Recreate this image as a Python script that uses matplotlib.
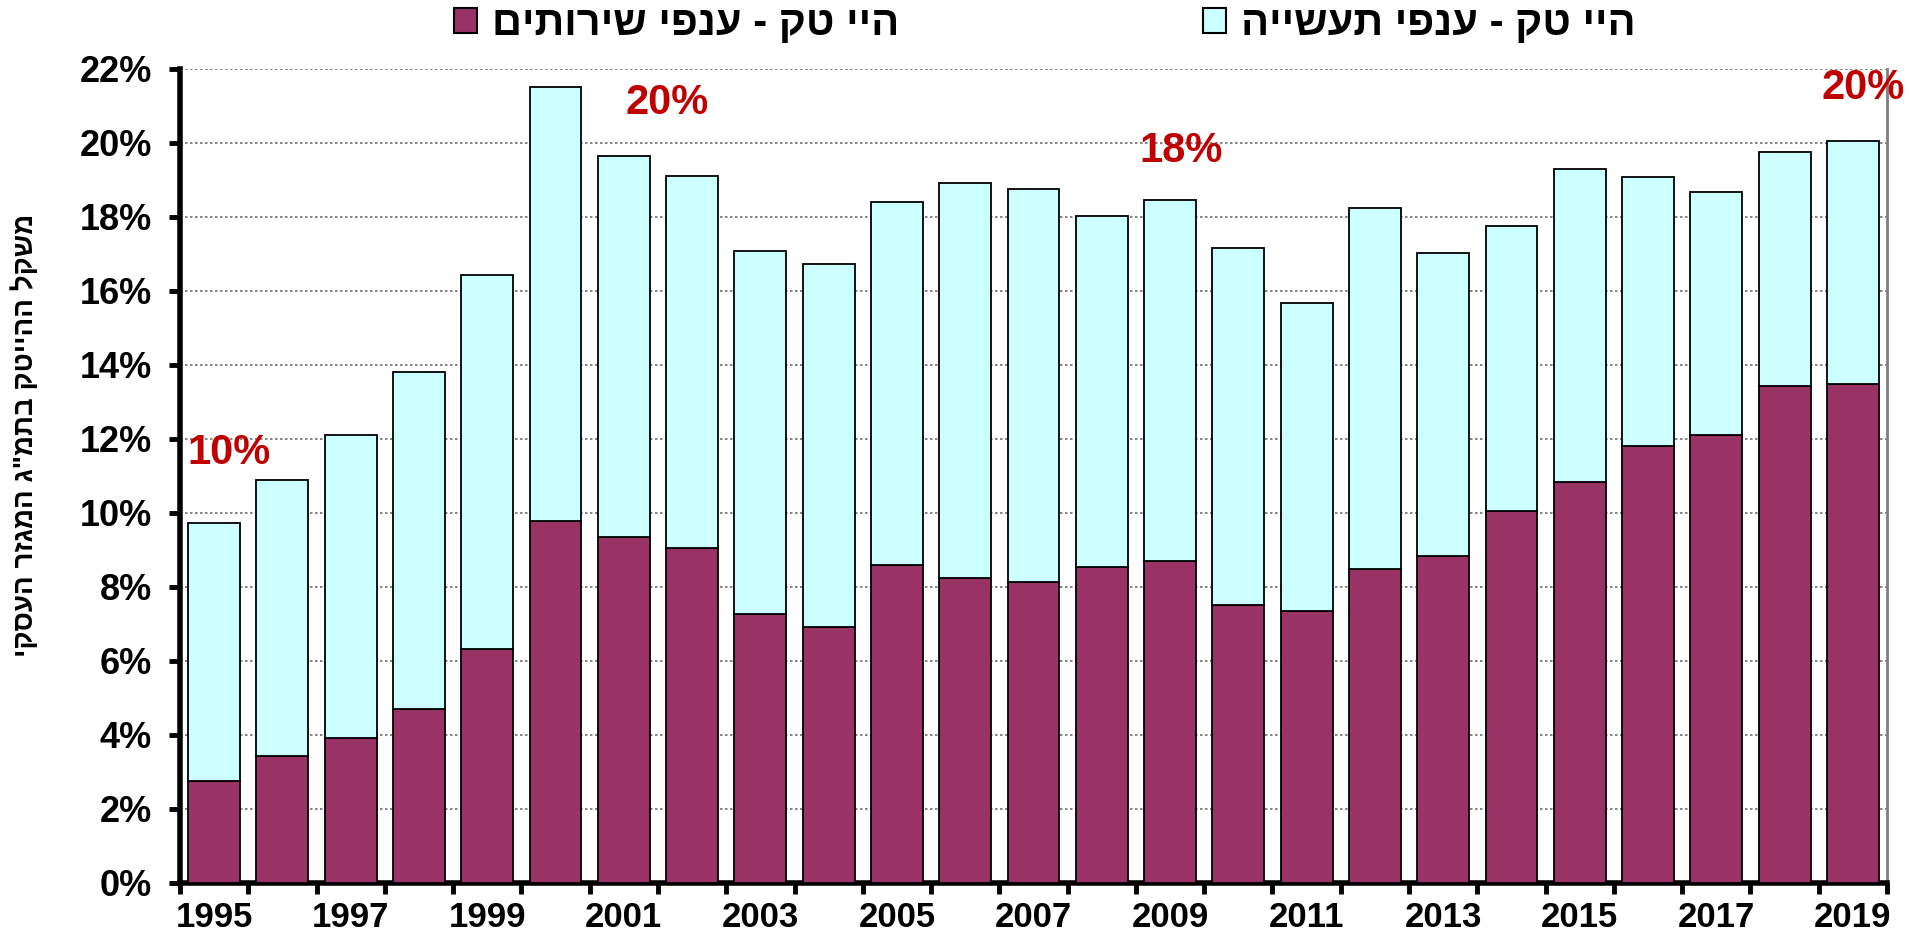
import matplotlib
matplotlib.use("Agg")
import matplotlib.pyplot as plt
from matplotlib.patches import Patch
import numpy as np

years = list(range(1995, 2020))
services = [2.77, 3.43, 3.92, 4.71, 6.32, 9.78, 9.35, 9.06, 7.28, 6.92,
            8.60, 8.23, 8.14, 8.53, 8.70, 7.51, 7.35, 8.50, 8.83, 10.05,
            10.84, 11.82, 12.12, 13.44, 13.50]
totals = [9.72, 10.90, 12.12, 13.80, 16.44, 21.51, 19.66, 19.10, 17.09, 16.73,
          18.41, 18.91, 18.77, 18.02, 18.45, 17.16, 15.68, 18.25, 17.03, 17.75,
          19.30, 19.07, 18.68, 19.76, 20.06]
industry = [t - s for t, s in zip(totals, services)]

label_services = "היי טק - ענפי שירותים"
label_industry = "היי טק - ענפי תעשייה"
y_title = 'משקל ההייטק בתמ"ג המגזר העסקי'

callout_texts = ["10%", "20%", "18%", "20%"]
callout_x = [0.22, 6.63, 14.16, 24.15]
callout_y = [11.62, 21.08, 19.78, 21.49]

HEB = ["Liberation Sans", "DejaVu Sans"]


def vis(s):
    # visual order for right-to-left text
    return s[::-1]


W, H = 1909, 934
fig = plt.figure(figsize=(W / 100, H / 100), dpi=100)
ax = fig.add_axes([180 / W, 1 - 883 / H, (1887 - 180) / W, (883 - 69) / H])

x = np.arange(len(years))
c_serv = "#993366"
c_ind = "#CCFFFF"
ax.bar(x, services, width=0.76, color=c_serv, edgecolor="black", linewidth=1.3, zorder=3)
ax.bar(x, industry, bottom=services, width=0.76, color=c_ind, edgecolor="black",
       linewidth=1.3, zorder=3)

ax.set_xlim(-0.5, len(years) - 0.5)
ax.set_ylim(0, 22)
ax.set_yticks(np.arange(0, 23, 2))
ax.set_yticklabels([f"{v}%" for v in range(0, 23, 2)])
ax.yaxis.grid(True, linestyle=(0, (1.5, 1.5)), color="#707070", linewidth=1.2, zorder=0)

# ticks between categories, labels every other year
ax.set_xticks(np.arange(-0.5, len(years), 1.0))
ax.set_xticklabels([])
ax.set_xticks(x[::2], minor=True)
ax.set_xticklabels([str(y) for y in years[::2]], minor=True)
ax.tick_params(axis="x", which="minor", length=0, pad=13)
ax.tick_params(axis="x", which="major", length=8, width=3.5, direction="out")
ax.tick_params(axis="y", length=8, width=3.5, direction="out", pad=12)

for lbl in ax.get_yticklabels():
    lbl.set_fontfamily("Liberation Sans")
    lbl.set_fontweight("bold")
    lbl.set_fontsize(26)
for lbl in ax.get_xticklabels(minor=True):
    lbl.set_fontfamily("Liberation Sans")
    lbl.set_fontweight("bold")
    lbl.set_fontsize(25)

for side in ["left", "bottom"]:
    ax.spines[side].set_linewidth(4)
    ax.spines[side].set_color("black")
ax.spines["top"].set_visible(False)
ax.spines["right"].set_color("#808080")
ax.spines["right"].set_linewidth(2)

fig.text(25 / W, 1 - 435 / H, vis(y_title), rotation=90, ha="center", va="center",
         fontsize=20, fontweight="bold", family=HEB)

for t, cx, cy in zip(callout_texts, callout_x, callout_y):
    ax.text(cx, cy, t, ha="center", va="center", color="#C00000", fontsize=30,
            fontweight="bold", family="Liberation Sans", zorder=5)

handles = [Patch(facecolor=c_serv, edgecolor="black", linewidth=1.5),
           Patch(facecolor=c_ind, edgecolor="black", linewidth=1.5)]
leg = fig.legend(handles, [vis(label_services), vis(label_industry)], ncol=2,
                 loc="center", bbox_to_anchor=(1045 / W, 1 - 24 / H), frameon=False,
                 prop={"family": HEB, "weight": "bold", "size": 30},
                 handlelength=0.55, handleheight=0.55, handletextpad=0.35,
                 columnspacing=7.3)

fig.savefig("out.png", dpi=100)
